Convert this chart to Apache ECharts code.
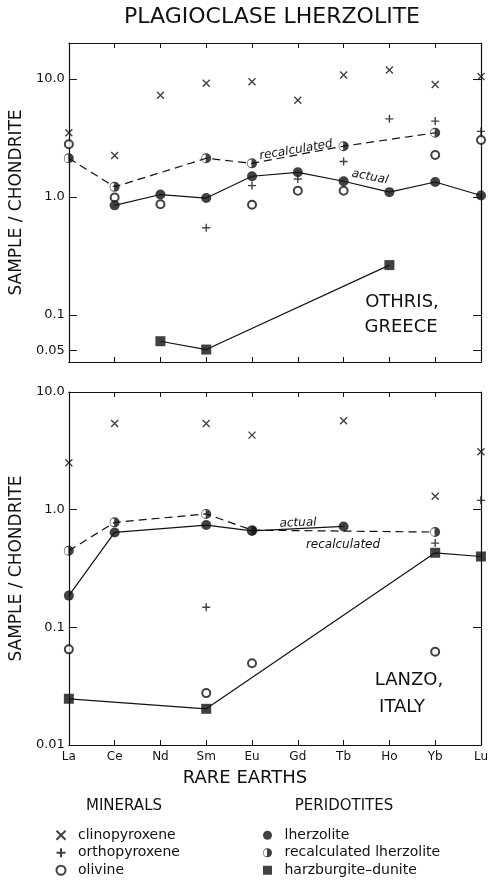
<!DOCTYPE html>
<html><head><meta charset="utf-8">
<script src="https://cdn.jsdelivr.net/npm/echarts@6/dist/echarts.min.js"></script>
<style>html,body{margin:0;padding:0;background:#fff}#c{width:491px;height:883px}</style>
</head><body><div id="c"></div>
<script>
const categories = ['La','Ce','Nd','Sm','Eu','Gd','Tb','Ho','Yb','Lu'];

// OTHRIS, GREECE (upper panel)
const othrisCpx   = [3.5, 2.25, 7.3, 9.2, 9.5, 6.6, 10.8, 11.9, 9.0, 10.5];
const othrisOpx   = [null, null, null, 0.55, 1.25, 1.42, 2.0, 4.6, 4.4, 3.6];
const othrisOl    = [2.8, 0.99, 0.87, null, 0.86, 1.13, 1.13, null, 2.27, 3.04];
const othrisLhz   = [null, 0.85, 1.05, 0.98, 1.5, 1.62, 1.36, 1.1, 1.34, 1.03];
const othrisRecal = [2.13, 1.22, null, 2.13, 1.93, null, 2.7, null, 3.5, null];
const othrisHarz  = [null, null, 0.06, 0.051, null, null, null, 0.265, null, null];

// LANZO, ITALY (lower panel)
const lanzoCpx   = [2.5, 5.4, null, 5.4, 4.3, null, 5.7, null, 1.3, 3.1];
const lanzoOpx   = [null, null, null, 0.148, null, null, null, null, 0.52, 1.2];
const lanzoOl    = [0.065, null, null, 0.0276, 0.0495, null, null, null, 0.062, null];
const lanzoLhz   = [0.186, 0.64, null, 0.74, 0.66, null, 0.72, null, null, null];
const lanzoRecal = [0.447, 0.78, null, 0.92, 0.67, null, null, null, 0.645, null];
const lanzoHarz  = [0.0247, null, null, 0.0203, null, null, null, null, 0.43, 0.40];

const ticksTop = [0.05, 0.1, 1, 10];
const ticksBottom = [0.01, 0.1, 1, 10];
const tickLabels = {'0.01':'0.01','0.05':'0.05','0.1':'0.1','1':'1.0','10':'10.0'};

const INK = '#111';
const FONT = 'DejaVu Sans';
const SYM_X = 'path://M0 0L10 10M10 0L0 10';
const SYM_PLUS = 'path://M5 0L5 10M0 5L10 5';
const SYM_HALF = 'path://M5 0A5 5 0 1 1 5 10A5 5 0 1 1 5 0ZM4.5 1.1A3.9 3.9 0 0 0 4.5 8.9Z';
const SYM_SQ = 'path://M0 0H10V10H0Z';

const N_CPX = 'clinopyroxene', N_OPX = 'orthopyroxene', N_OL = 'olivine';
const N_LHZ = 'lherzolite', N_REC = 'recalculated lherzolite', N_HZ = 'harzburgite–dunite';

function xAxes(gi, labels) {
  const base = {
    type: 'category', data: categories, boundaryGap: false, gridIndex: gi,
    axisLine: {show: true, lineStyle: {color: INK, width: 1.2}},
    axisTick: {show: true, inside: true, length: 5, lineStyle: {color: INK, width: 1}},
    splitLine: {show: false}
  };
  return [
    Object.assign({}, base, {position: 'bottom',
      axisLabel: labels ? {show: true, margin: 6, color: INK, fontFamily: FONT, fontSize: 12} : {show: false}}),
    Object.assign({}, base, {position: 'top', axisLabel: {show: false}})
  ];
}
function yAxes(gi, min, max, ticks) {
  const base = {
    type: 'log', logBase: 10, min: min, max: max, gridIndex: gi,
    axisLine: {show: true, lineStyle: {color: INK, width: 1.2}},
    axisTick: {show: true, inside: true, length: 8, customValues: ticks, lineStyle: {color: INK, width: 1}},
    splitLine: {show: false}, minorTick: {show: false}
  };
  return [
    Object.assign({}, base, {position: 'left',
      name: 'SAMPLE / CHONDRITE', nameLocation: 'middle', nameGap: 34, nameRotate: 90,
      nameTextStyle: {color: INK, fontFamily: FONT, fontSize: 17},
      axisLabel: {show: true, margin: 4, color: INK, fontFamily: FONT, fontSize: 13,
        customValues: ticks, formatter: v => tickLabels[String(+v.toPrecision(3))] || String(v)}}),
    Object.assign({}, base, {position: 'right', axisLabel: {show: false}})
  ];
}

function panelSeries(gi, cpx, opx, ol, lhz, rec, hz) {
  const ax = {xAxisIndex: gi * 2, yAxisIndex: gi * 2};
  const line = (data, dashed) => Object.assign({
    type: 'line', data: data, connectNulls: true, symbol: 'none', silent: true, clip: false,
    lineStyle: {color: INK, width: 1.2, type: dashed ? [8, 5] : 'solid'}, z: 2
  }, ax);
  const sc = (name, data, symbol, size, style, z) => Object.assign({
    type: 'scatter', name: name, data: data, symbol: symbol, symbolSize: size, clip: false,
    itemStyle: style, z: z || 3
  }, ax);
  return [
    line(lhz, false), line(rec, true), line(hz, false),
    sc(N_CPX, cpx, SYM_X, 7, {color: 'none', borderColor: INK, borderWidth: 1.4}),
    sc(N_OPX, opx, SYM_PLUS, 8, {color: 'none', borderColor: INK, borderWidth: 1.4}),
    sc(N_OL, ol, 'emptyCircle', 8, {color: INK, borderColor: INK, borderWidth: 1.3}),
    sc(N_LHZ, lhz, 'circle', 10, {color: INK}, 4),
    sc(N_REC, rec, SYM_HALF, 10, {color: INK}, 5),
    sc(N_HZ, hz, SYM_SQ, 10, {color: INK}, 4)
  ];
}

function txt(x, y, text, size, opts) {
  opts = opts || {};
  return {
    type: 'text', x: x, y: y, rotation: opts.rot || 0, z: 10,
    style: {text: text, fill: INK, align: opts.align || 'center', verticalAlign: 'middle',
      textAlign: opts.align || 'center', textVerticalAlign: 'middle',
      font: (opts.italic ? 'italic ' : '') + size + 'px "' + FONT + '"'}
  };
}

const legendBase = {orient: 'vertical', top: 828, padding: 0, itemWidth: 24, itemHeight: 9, itemGap: 3,
  selectedMode: false, textStyle: {color: INK, fontFamily: FONT, fontSize: 14, lineHeight: 14.5}};

const chart = echarts.init(document.getElementById('c'), null, {renderer: 'canvas'});
chart.setOption({
  backgroundColor: '#fff',
  animation: false,
  grid: [
    {left: 62, top: 43, width: 419, height: 319},
    {left: 62, top: 392, width: 419, height: 353}
  ],
  xAxis: xAxes(0, false).concat(xAxes(1, true)),
  yAxis: yAxes(0, 0.04, 20.2, ticksTop).concat(yAxes(1, 0.01, 10, ticksBottom)),
  legend: [
    Object.assign({}, legendBase, {left: 54, data: [N_CPX, N_OPX, N_OL]}),
    Object.assign({}, legendBase, {left: 263, data: [N_LHZ, N_REC, N_HZ]})
  ],
  graphic: [
    txt(272, 17, 'PLAGIOCLASE LHERZOLITE', 22),
    txt(245, 778, 'RARE EARTHS', 18),
    txt(124, 806, 'MINERALS', 15),
    txt(344, 806, 'PERIDOTITES', 15),
    txt(402, 302, 'OTHRIS,', 18),
    txt(401, 327, 'GREECE', 18),
    txt(409, 680, 'LANZO,', 18),
    txt(402, 707, 'ITALY', 18),
    txt(296, 150, 'recalculated', 12, {italic: true, rot: 0.17}),
    txt(370, 177, 'actual', 12, {italic: true, rot: -0.2}),
    txt(298, 523, 'actual', 12, {italic: true, rot: 0.03}),
    txt(343, 545, 'recalculated', 12, {italic: true})
  ],
  series: panelSeries(0, othrisCpx, othrisOpx, othrisOl, othrisLhz, othrisRecal, othrisHarz)
    .concat(panelSeries(1, lanzoCpx, lanzoOpx, lanzoOl, lanzoLhz, lanzoRecal, lanzoHarz))
});
</script>
</body></html>
